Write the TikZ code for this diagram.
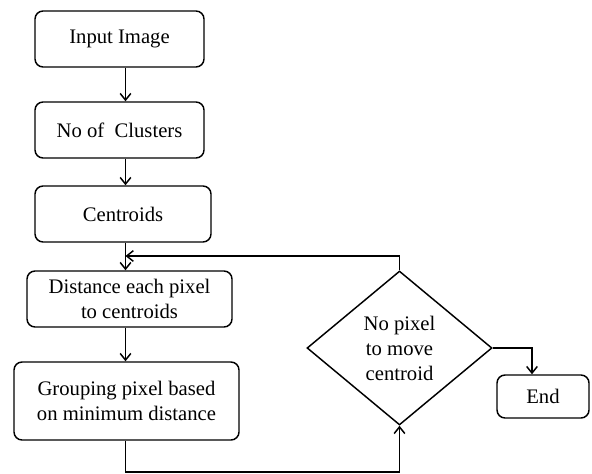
\documentclass[tikz,border=0pt]{standalone}
\usepackage{fontspec}
\setmainfont{Liberation Serif}
\usetikzlibrary{shapes.geometric,arrows.meta}

\begin{document}
\begin{tikzpicture}[x=0.75pt, y=-0.75pt, >={Straight Barb[length=5pt,width=8pt]},
	box/.style={draw, line width=1.1pt, rounded corners=6pt, align=center, inner sep=0pt,
		font=\fontsize{15.5}{18.75}\selectfont},
	decision/.style={draw, diamond, aspect=1.2, line width=1.1pt, align=center, inner sep=0pt,
		font=\fontsize{15.5}{18.75}\selectfont},
	link/.style={->, line width=1.1pt}]
	
	% Page frame
	\useasboundingbox (0,0) rectangle (592,474);
	
	% Main column of steps
	\node[box, minimum width=126.75pt, minimum height=42pt] (input) at (119.5,39) {Input Image};
	\node[box, minimum width=126.75pt, minimum height=42pt] (clusters) at (119.5,130) {No of \ Clusters};
	\node[box, minimum width=132pt, minimum height=42pt] (centroids) at (123,214) {Centroids};
	\node[box, minimum width=153.75pt, minimum height=42pt] (distance) at (129.5,299) {Distance each pixel\\to centroids};
	\node[box, minimum width=168.75pt, minimum height=58.5pt] (grouping) at (126.5,401) {Grouping pixel based\\on minimum distance};
	
	% Test and end
	\node[decision, minimum width=138.75pt, minimum height=115.5pt] (test) at (399.5,348) {No pixel\\to move\\centroid};
	\node[box, minimum width=69pt, minimum height=32.25pt] (end) at (543,396.5) {End};
	
	% Helper points for the lines
	\coordinate (spine) at (125.5,0);
	\coordinate (join) at (125.5,256);
	\coordinate (bottom) at (125.5,472);
	\coordinate (drop) at (532,0);
	
	% Arrows down the column
	\draw[link] (input.south -| spine) -- (clusters.north -| spine);
	\draw[link] (clusters.south -| spine) -- (centroids.north -| spine);
	\draw[link] (centroids.south -| spine) -- (distance.north -| spine);
	\draw[link] (distance.south -| spine) -- (grouping.north -| spine);
	
	% Loop back and exit
	\draw[link] (grouping.south -| spine) -- (bottom) -| (test.south);
	\draw[link] (test.north) |- (join);
	\draw[link] (test.east) -| (end.north -| drop);
	
\end{tikzpicture}
\end{document}
